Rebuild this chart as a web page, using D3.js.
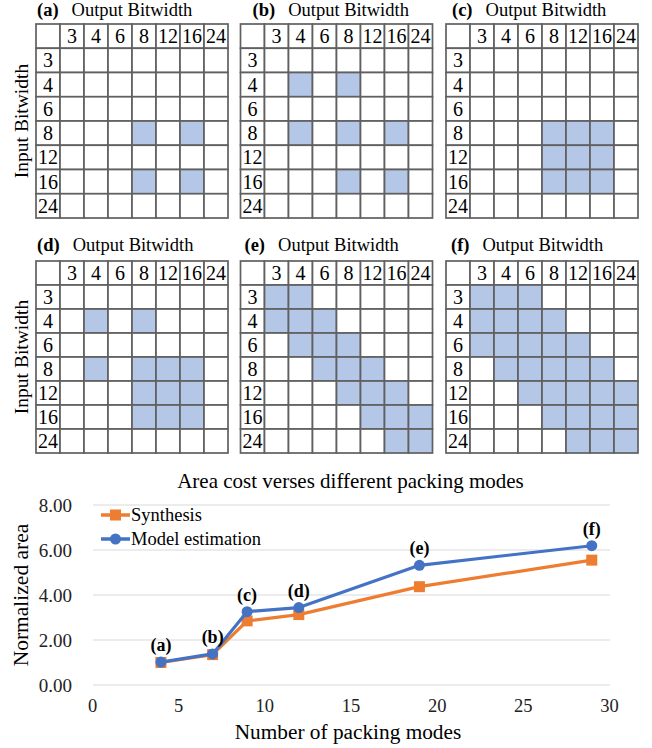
<!DOCTYPE html>
<html>
<head>
<meta charset="utf-8">
<script src="https://cdn.jsdelivr.net/npm/d3@7"></script>
<style>
  html, body { margin: 0; padding: 0; background: #fff; }
  svg text { font-family: "Liberation Serif", "Times New Roman", serif; }
</style>
</head>
<body>
<svg id="fig" width="652" height="748"></svg>
<script>
// ---- data ----
const bitwidths = [3, 4, 6, 8, 12, 16, 24];
const panelLabels = ["(a)", "(b)", "(c)", "(d)", "(e)", "(f)"];

// supported (input, output) packing modes per configuration: input bitwidth -> output bitwidths
const modesA = [{ inp: 8, out: [8, 16] }, { inp: 16, out: [8, 16] }];
const modesB = [{ inp: 4, out: [4, 8] }, { inp: 8, out: [4, 8, 16] }, { inp: 16, out: [8, 16] }];
const modesC = [{ inp: 8, out: [8, 12, 16] }, { inp: 12, out: [8, 12, 16] }, { inp: 16, out: [8, 12, 16] }];
const modesD = [{ inp: 4, out: [4, 8] }, { inp: 8, out: [4, 8, 12, 16] }, { inp: 12, out: [8, 12, 16] }, { inp: 16, out: [8, 12, 16] }];
const modesE = [
  { inp: 3, out: [3, 4] }, { inp: 4, out: [3, 4, 6] }, { inp: 6, out: [4, 6, 8] },
  { inp: 8, out: [6, 8, 12] }, { inp: 12, out: [8, 12, 16] }, { inp: 16, out: [12, 16, 24] },
  { inp: 24, out: [16, 24] }
];
const modesF = [
  { inp: 3, out: [3, 4, 6] }, { inp: 4, out: [3, 4, 6, 8] }, { inp: 6, out: [3, 4, 6, 8, 12] },
  { inp: 8, out: [4, 6, 8, 12, 16] }, { inp: 12, out: [6, 8, 12, 16, 24] }, { inp: 16, out: [8, 12, 16, 24] },
  { inp: 24, out: [12, 16, 24] }
];
const panelModes = [modesA, modesB, modesC, modesD, modesE, modesF];

// area cost chart
const packingModes = [4, 7, 9, 12, 19, 29];
const synthesisArea = [1.00, 1.35, 2.85, 3.13, 4.37, 5.55];
const modelArea = [1.02, 1.38, 3.26, 3.44, 5.32, 6.19];
const pointLabels = ["(a)", "(b)", "(c)", "(d)", "(e)", "(f)"];
const yTicks = [0, 2, 4, 6, 8];
const xTicks = [0, 5, 10, 15, 20, 25, 30];

// ---- layout ----
const svg = d3.select("#fig");
const FILL = "#B4C7E7";
const GRIDSTROKE = "#606060";
const panelLeft = [36, 240.5, 446];
const panelTop = [24, 261];
const panelCellH = [24.25, 24];
const titleOffset = [1, 12, 6, 1, 4, 5];
const gridW = 192;

panelModes.forEach((modes, idx) => {
  const col = idx % 3, row = Math.floor(idx / 3);
  const left = panelLeft[col], top = panelTop[row];
  const h = panelCellH[row] * 8;
  const keys = ["", ...bitwidths.map(String)];
  const xs = d3.scaleBand().domain(keys).range([left, left + gridW]);
  const ys = d3.scaleBand().domain(keys).range([top, top + h]);
  const g = svg.append("g");

  const filled = new Set();
  modes.forEach(m => m.out.forEach(o => filled.add(m.inp + "_" + o)));

  const cells = [];
  keys.forEach(r => keys.forEach(c => cells.push({ r, c })));
  g.selectAll("rect.cell").data(cells).join("rect")
    .attr("class", "cell")
    .attr("x", d => xs(d.c)).attr("y", d => ys(d.r))
    .attr("width", xs.bandwidth()).attr("height", ys.bandwidth())
    .attr("fill", d => filled.has(d.r + "_" + d.c) ? FILL : "#fff")
    .attr("stroke", GRIDSTROKE).attr("stroke-width", 1.7);

  // header row (output bitwidth) and header column (input bitwidth)
  g.selectAll("text.colh").data(bitwidths).join("text")
    .attr("class", "colh")
    .attr("x", d => xs(String(d)) + xs.bandwidth() / 2)
    .attr("y", ys("") + ys.bandwidth() / 2 + 7)
    .attr("text-anchor", "middle").attr("font-size", 20).text(d => d);
  g.selectAll("text.rowh").data(bitwidths).join("text")
    .attr("class", "rowh")
    .attr("x", xs("") + xs.bandwidth() / 2)
    .attr("y", d => ys(String(d)) + ys.bandwidth() / 2 + 7)
    .attr("text-anchor", "middle").attr("font-size", 20).text(d => d);

  const t = g.append("text")
    .attr("x", left + titleOffset[idx])
    .attr("y", top - (row === 0 ? 8 : 10))
    .attr("font-size", 18.5);
  t.append("tspan").attr("font-weight", "bold").text(panelLabels[idx]);
  t.append("tspan").attr("dx", 13).text("Output Bitwidth");

  if (col === 0) {
    g.append("text")
      .attr("transform", `translate(28,${top + h / 2}) rotate(-90)`)
      .attr("text-anchor", "middle").attr("font-size", 19.5)
      .text("Input Bitwidth");
  }
});

// ---- area cost line chart ----
const x = d3.scaleLinear().domain([0, 30]).range([92, 609]);
const y = d3.scaleLinear().domain([0, 8]).range([685, 505]);

svg.append("g").selectAll("line").data(yTicks).join("line")
  .attr("x1", x(0) + 1).attr("x2", x(30) + 1)
  .attr("y1", d => y(d)).attr("y2", d => y(d))
  .attr("stroke", "#d9d9d9").attr("stroke-width", 1.2);

const yAxis = svg.append("g").attr("transform", `translate(${x(0)},0)`)
  .call(d3.axisLeft(y).tickValues(yTicks).tickFormat(d3.format(".2f")).tickSize(0).tickPadding(20));
yAxis.select(".domain").remove();
yAxis.selectAll("text").attr("font-size", 19).attr("fill", "#222");

const xAxis = svg.append("g").attr("transform", `translate(0,${y(0)})`)
  .call(d3.axisBottom(x).tickValues(xTicks).tickSize(0).tickPadding(14));
xAxis.select(".domain").remove();
xAxis.selectAll("text").attr("font-size", 18.5).attr("fill", "#222");

svg.append("text").attr("x", (x(0) + x(30)) / 2).attr("y", 488)
  .attr("text-anchor", "middle").attr("font-size", 21)
  .text("Area cost verses different packing modes");
svg.append("text").attr("x", 348).attr("y", 739)
  .attr("text-anchor", "middle").attr("font-size", 21.3)
  .text("Number of packing modes");
svg.append("text").attr("transform", `translate(28,${(y(0) + y(8)) / 2}) rotate(-90)`)
  .attr("text-anchor", "middle").attr("font-size", 21.5)
  .text("Normalized area");

const ORANGE = "#ED7D31", BLUE = "#4472C4";
const line = d3.line().x(d => x(d[0])).y(d => y(d[1]));
const synth = packingModes.map((m, i) => [m, synthesisArea[i]]);
const model = packingModes.map((m, i) => [m, modelArea[i]]);

svg.append("path").datum(synth).attr("d", line)
  .attr("fill", "none").attr("stroke", ORANGE).attr("stroke-width", 3.2).attr("stroke-linejoin", "round");
svg.append("g").selectAll("rect").data(synth).join("rect")
  .attr("x", d => x(d[0]) - 5.5).attr("y", d => y(d[1]) - 5.5)
  .attr("width", 11).attr("height", 11).attr("fill", ORANGE);

svg.append("path").datum(model).attr("d", line)
  .attr("fill", "none").attr("stroke", BLUE).attr("stroke-width", 3.2).attr("stroke-linejoin", "round");
svg.append("g").selectAll("circle").data(model).join("circle")
  .attr("cx", d => x(d[0])).attr("cy", d => y(d[1])).attr("r", 5.5).attr("fill", BLUE);

svg.append("g").selectAll("text").data(model).join("text")
  .attr("x", d => x(d[0])).attr("y", d => y(d[1]) - 11)
  .attr("text-anchor", "middle").attr("font-size", 18).attr("font-weight", "bold")
  .text((d, i) => pointLabels[i]);

// legend
const legend = svg.append("g");
[{ name: "Synthesis", color: ORANGE, shape: "square", ly: 515 },
 { name: "Model estimation", color: BLUE, shape: "circle", ly: 539 }].forEach(it => {
  legend.append("line").attr("x1", 101).attr("x2", 130).attr("y1", it.ly).attr("y2", it.ly)
    .attr("stroke", it.color).attr("stroke-width", 3.5);
  if (it.shape === "square") {
    legend.append("rect").attr("x", 110).attr("y", it.ly - 5.5).attr("width", 11).attr("height", 11).attr("fill", it.color);
  } else {
    legend.append("circle").attr("cx", 115.5).attr("cy", it.ly).attr("r", 5.5).attr("fill", it.color);
  }
  legend.append("text").attr("x", 131).attr("y", it.ly + 6).attr("font-size", 18.5).text(it.name);
});
</script>
</body>
</html>
